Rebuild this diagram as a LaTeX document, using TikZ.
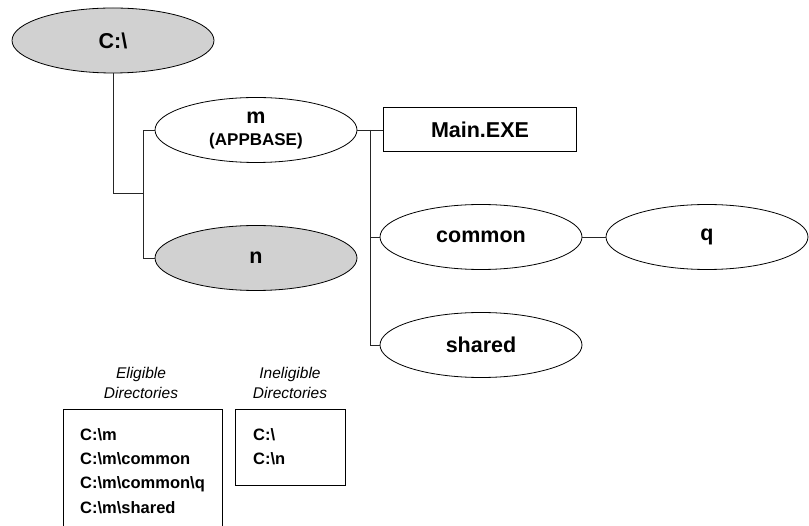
\documentclass[tikz,border=0pt]{standalone}
\usepackage{fontspec}
\setmainfont{Liberation Sans}
\usetikzlibrary{shapes.geometric}
\definecolor{dirgray}{gray}{0.82}
\tikzset{
  dir/.style={ellipse, draw=black, line width=0.8pt, minimum width=202pt, minimum height=65pt, inner sep=0pt, font=\fontsize{21.5}{23}\selectfont\bfseries},
  grayd/.style={dir, fill=dirgray},
  filebox/.style={draw=black, line width=1pt, minimum width=193pt, minimum height=44pt, inner sep=0pt, font=\fontsize{21.5}{23}\selectfont\bfseries},
  conn/.style={draw=black!85, line width=0.9pt},
  listtxt/.style={anchor=west, inner sep=0pt, font=\fontsize{16.5}{18}\selectfont\bfseries},
  head/.style={align=center, inner sep=0pt, font=\fontsize{15.5}{20}\selectfont\itshape},
  frame/.style={draw=black, line width=0.9pt}
}
\begin{document}
\begin{tikzpicture}[x=1pt,y=-1pt]
\useasboundingbox (0,0) rectangle (809,526);
% directory nodes
\node[grayd] (root) at (113,40.5) {C:\textbackslash};
\node[dir, align=center] (m) at (256,130) {m\\[-1pt]{\fontsize{17}{18}\selectfont (APPBASE)}};
\node[grayd] (n) at (256,258) {n};
\node[filebox] (main) at (480,130) {Main.EXE};
\node[dir] (common) at (481,237) {common};
\node[dir] (q) at (707,237) {q};
\node[dir] (shared) at (481,345) {shared};
% junctions
\coordinate (j1) at (143,193);
\coordinate (b1top) at (143,130);
\coordinate (b1bot) at (143,258);
\coordinate (b2top) at (370,130);
% connectors
\draw[conn] (root.south) |- (j1);
\draw[conn] (m.west) -- (b1top) -- (b1bot) -- (n.west);
\draw[conn] (m.east) -- (main.west);
\draw[conn] (b2top) |- (shared.west);
\draw[conn] (b2top |- common.west) -- (common.west);
\draw[conn] (common.east) -- (q.west);
% eligible list
\node[head] (elh) at (141,383) {Eligible\\Directories};
\coordinate (e1) at (63,530);
\coordinate (e2) at (63,409);
\coordinate (e3) at (222,409);
\coordinate (e4) at (222,530);
\draw[frame] (e1) -- (e2) -- (e3) -- (e4);
\node[listtxt] (l1) at (80,435) {C:\textbackslash m};
\node[listtxt] (l2) at (80,459) {C:\textbackslash m\textbackslash common};
\node[listtxt] (l3) at (80,484) {C:\textbackslash m\textbackslash common\textbackslash q};
\node[listtxt] (l4) at (80,508) {C:\textbackslash m\textbackslash shared};
% ineligible list
\node[head] (inh) at (290,383) {Ineligible\\Directories};
\node[frame, minimum width=110pt, minimum height=76pt, inner sep=0pt] (inbox) at (290,447) {};
\node[listtxt] (i1) at (253,435) {C:\textbackslash};
\node[listtxt] (i2) at (253,459) {C:\textbackslash n};
\end{tikzpicture}
\end{document}
